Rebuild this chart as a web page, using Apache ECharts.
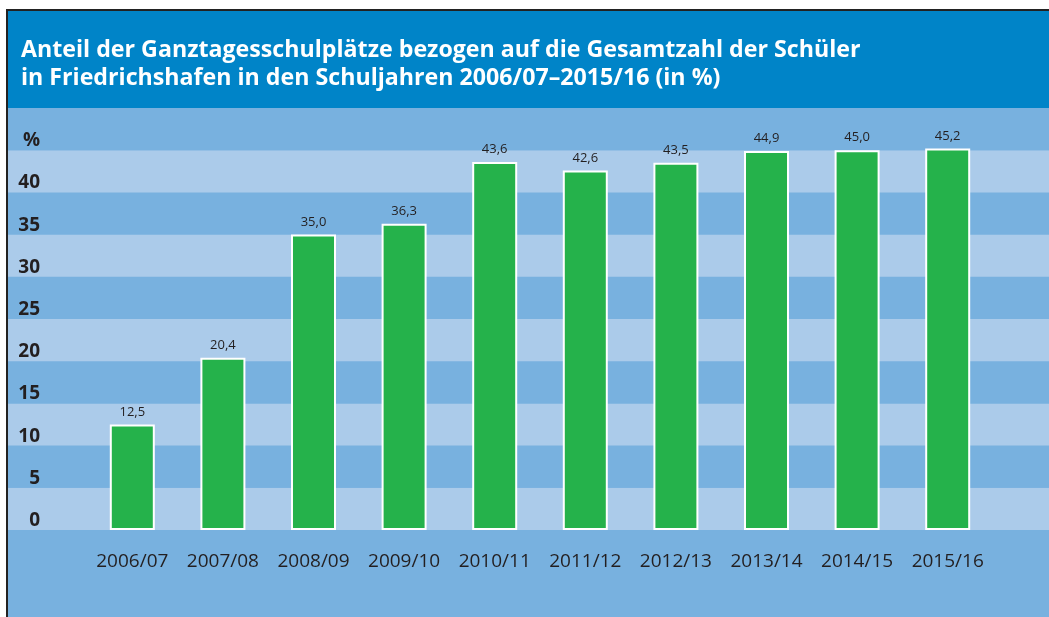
<!DOCTYPE html>
<html>
<head>
<meta charset="utf-8">
<script src="https://cdn.jsdelivr.net/npm/echarts@6/dist/echarts.min.js"></script>
<style>
  html, body { margin: 0; padding: 0; background: #fff; }
  #chart { width: 1049px; height: 617px; }
</style>
</head>
<body>
<div id="chart"></div>
<script>
const years = ['2006/07', '2007/08', '2008/09', '2009/10', '2010/11', '2011/12', '2012/13', '2013/14', '2014/15', '2015/16']
const shares = [12.5, 20.4, 35.0, 36.3, 43.6, 42.6, 43.5, 44.9, 45.0, 45.2]
const yTicks = { min: 0, max: 50, interval: 5 }

const TITLE_BLUE = '#0084c8'
const BAND_DARK = '#78b1df'
const BAND_LIGHT = '#abcbea'
const BAR_GREEN = '#25b24b'
const TEXT = '#231f20'

const chart = echarts.init(document.getElementById('chart'))

const fmt = v => v.toFixed(1).replace('.', ',')

chart.setOption({
  backgroundColor: BAND_DARK,
  animation: false,
  title: {
    text: 'Anteil der Ganztagesschulplätze bezogen auf die Gesamtzahl der Schüler\nin Friedrichshafen in den Schuljahren 2006/07–2015/16 (in %)',
    left: 16,
    top: 31,
    textStyle: {
      color: '#fff',
      fontFamily: 'Open Sans',
      fontWeight: 'bold',
      fontSize: 23.2,
      lineHeight: 28
    }
  },
  graphic: [
    { type: 'rect', z: 1, shape: { x: 0, y: 0, width: 1049, height: 10 }, style: { fill: '#fff' } },
    { type: 'rect', z: 1, shape: { x: 0, y: 0, width: 6, height: 617 }, style: { fill: '#fff' } },
    { type: 'rect', z: 1, shape: { x: 7, y: 11, width: 1042, height: 97 }, style: { fill: TITLE_BLUE } },
    { type: 'rect', z: 2, shape: { x: 6, y: 9, width: 1043, height: 2 }, style: { fill: '#222' } },
    { type: 'rect', z: 2, shape: { x: 6, y: 9, width: 2, height: 608 }, style: { fill: '#222' } }
  ],
  grid: [
    { left: 8, right: 0, top: 108, bottom: 87 },
    { left: 87, right: 56, top: 108, bottom: 87 }
  ],
  xAxis: [
    { gridIndex: 0, type: 'value', show: false },
    {
      gridIndex: 1,
      type: 'category',
      data: years,
      axisLine: { show: false },
      axisTick: { show: false },
      axisLabel: {
        interval: 0,
        hideOverlap: false,
        color: TEXT,
        fontFamily: 'Open Sans',
        fontSize: 19,
        margin: 22
      }
    }
  ],
  yAxis: [
    {
      gridIndex: 0,
      type: 'value',
      min: yTicks.min,
      max: yTicks.max,
      interval: yTicks.interval,
      axisLine: { show: false },
      axisTick: { show: false },
      splitLine: { show: false },
      splitArea: { show: true, areaStyle: { color: [BAND_LIGHT, BAND_DARK] } },
      axisLabel: {
        inside: true,
        align: 'right',
        margin: 32,
        verticalAlign: 'bottom',
        padding: [0, 0, 0, 0],
        color: TEXT,
        fontFamily: 'Open Sans',
        fontWeight: 'bold',
        fontSize: 19,
        formatter: v => (v === 45 ? '%' : v === 50 ? '' : String(v))
      }
    },
    { gridIndex: 1, type: 'value', min: yTicks.min, max: yTicks.max, show: false }
  ],
  series: [
    {
      type: 'bar',
      xAxisIndex: 1,
      yAxisIndex: 1,
      data: shares,
      barWidth: 45,
      itemStyle: { color: BAR_GREEN, borderColor: '#fff', borderWidth: 2 },
      label: {
        show: true,
        position: 'top',
        distance: 6,
        color: TEXT,
        fontFamily: 'Open Sans',
        fontSize: 13,
        formatter: p => fmt(p.value)
      }
    }
  ]
})
</script>
</body>
</html>
